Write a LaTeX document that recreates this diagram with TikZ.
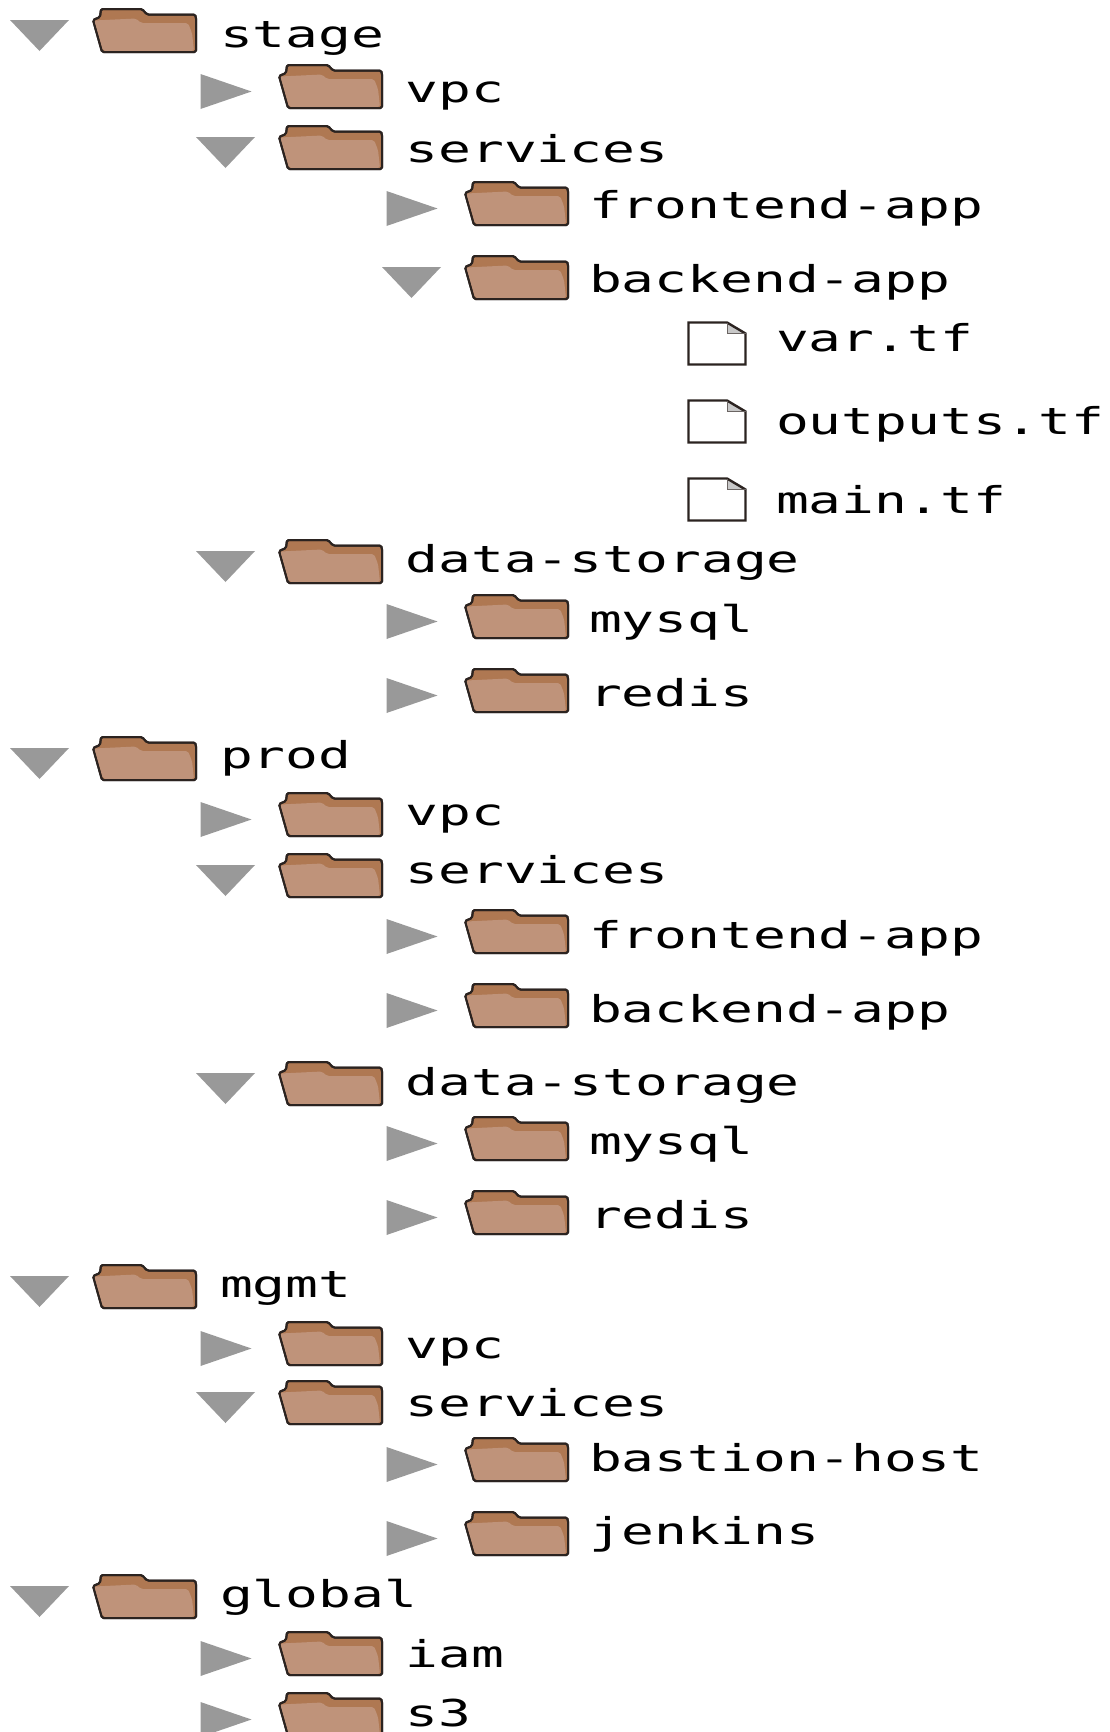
\documentclass[tikz,border=0pt]{standalone}
\usepackage{fontspec}
\newfontfamily\treefont[FakeStretch=1.475]{DejaVu Sans Mono}
\definecolor{folderback}{HTML}{AF7852}
\definecolor{folderfront}{HTML}{BF937A}
\definecolor{folderline}{HTML}{2B2320}
\definecolor{tri}{HTML}{999999}
\definecolor{fold}{HTML}{C8C8C8}
\tikzset{
  folderpic/.pic={
    \path[fill=folderback,draw=folderline,line width=2pt,line join=round,rounded corners=1.5pt]
      (0,11) -- (7,8) -- (8,0) -- (49,0) -- (54,5.5) -- (102,5.5) -- (103,8) -- (103,43) -- (9,43) -- cycle;
    \path[fill=folderfront,rounded corners=2pt]
      (1.2,11.5) -- (43,9.5) -- (48,14) -- (95,14) -- (99,24) -- (101,41.8) -- (10,41.8) -- cycle;
    \path[draw=folderline,line width=2pt,line join=round,rounded corners=1.5pt]
      (0,11) -- (7,8) -- (8,0) -- (49,0) -- (54,5.5) -- (102,5.5) -- (103,8) -- (103,43) -- (9,43) -- cycle;
  },
  trianglepicdown/.pic={\fill[tri] (-29.5,-11) -- (29.5,-11) -- (0,20) -- cycle;},
  trianglepicright/.pic={\fill[tri] (0,-13) -- (51,4.5) -- (0,22) -- cycle;},
  filepic/.pic={
    \fill[fold] (38.5,0) -- (57,11) -- (38.5,11) -- cycle;
    \draw[draw=folderline,line width=2.4pt,line join=miter,fill=none]
      (0,0) -- (38.5,0) -- (57,11) -- (57,42) -- (0,42) -- cycle;
    \draw[draw=folderline!70,line width=1pt] (38.5,0) -- (38.5,11) -- (57,11);
  },
  lab/.style={anchor=base west,inner sep=0pt,outer sep=0pt,text=black,font=\treefont\fontsize{37}{40}\selectfont},
}
\begin{document}
\begin{tikzpicture}[x=1pt,y=-1pt]
\useasboundingbox (0,0) rectangle (1109,1732);
% level / folder top / baseline / state / label
\foreach \n/\lev/\fy/\by/\st/\txt in {
 a/0/9/47.8/down/stage,
 b/1/65/102.8/right/vpc,
 c/1/126/162.3/down/services,
 d/2/182/218.3/right/frontend-app,
 e/2/256/292.3/down/backend-app,
 f/1/540/572.3/down/data-storage,
 g/2/595/632.3/right/mysql,
 h/2/669/706.3/right/redis,
 i/0/737/768.8/down/prod,
 j/1/793/825.3/right/vpc,
 k/1/854/883.3/down/services,
 l/2/910/948.3/right/frontend-app,
 m/2/984/1022.3/right/backend-app,
 n/1/1062/1095.3/down/data-storage,
 o/2/1117/1154.8/right/mysql,
 p/2/1191/1228.8/right/redis,
 q/0/1265/1297.3/down/mgmt,
 r/1/1322/1358.3/right/vpc,
 s/1/1381/1416.8/down/services,
 t/2/1438/1471.8/right/bastion-host,
 u/2/1512/1544.8/right/jenkins,
 v/0/1575/1607.8/down/global,
 w/1/1632/1667.8/right/iam,
 x/1/1693/1726/right/s3}
{
  \pgfmathsetmacro{\fx}{93+186*\lev}
  \pgfmathsetmacro{\tx}{\lev==2 ? 589 : (\lev==1 ? 405.5 : 220)}
  \pic at (\fx,\fy) {folderpic};
  \node[lab] (t\n) at (\tx,\by) {\txt};
  \pgfmathsetmacro{\cy}{\fy+22}
  \ifnum\pdfstrcmp{\st}{down}=0
    \pgfmathsetmacro{\ax}{39.5+186*\lev}
    \pic at (\ax,\cy) {trianglepicdown};
  \else
    \pgfmathsetmacro{\ax}{14.5+186*\lev}
    \pic at (\ax,\cy) {trianglepicright};
  \fi
}
\foreach \n/\fy/\by/\txt in {1/322.5/351.5/var.tf, 2/400.5/434.5/outputs.tf, 3/478.5/513.5/main.tf}
{
  \pic at (688.5,\fy) {filepic};
  \node[lab] (f\n) at (776,\by) {\txt};
}
\end{tikzpicture}
\end{document}
